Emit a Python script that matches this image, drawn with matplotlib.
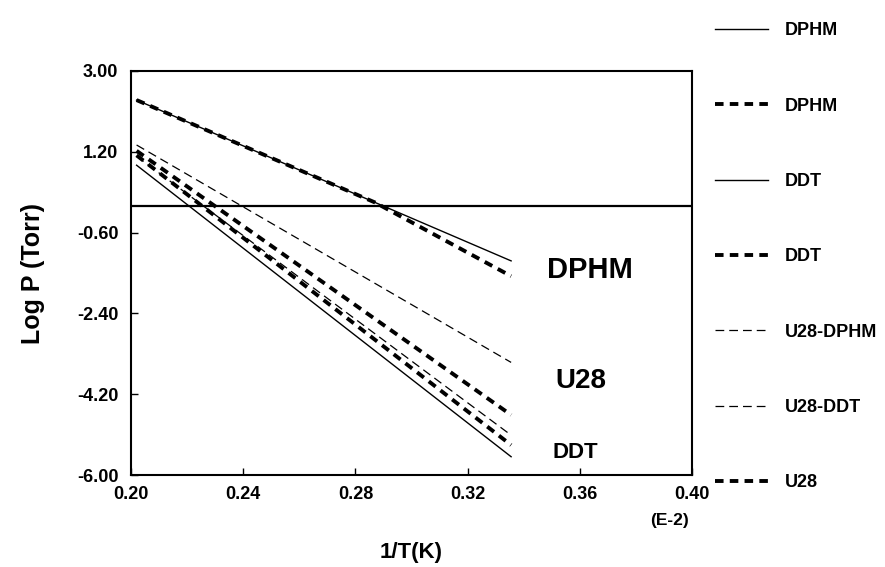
import matplotlib
matplotlib.use("Agg")
import matplotlib.pyplot as plt

plt.rcParams['font.family'] = ['Liberation Sans', 'DejaVu Sans']
plt.rcParams['font.weight'] = 'bold'

# data: inverse temperature (E-2) and log vapour pressure (Torr)
inv_T = [0.202, 0.3355]
inv_T_dphm_dashed = [0.202, 0.287, 0.3355]
dphm_solid = [2.35, -1.23]
dphm_dashed = [2.35, 0.07, -1.57]
ddt_solid = [0.90, -5.59]
ddt_dashed = [1.12, -5.33]
u28_dphm = [1.35, -3.49]
u28_ddt = [1.10, -5.11]
u28 = [1.22, -4.66]

x_ticks = [0.20, 0.24, 0.28, 0.32, 0.36, 0.40]
y_ticks = [3.00, 1.20, -0.60, -2.40, -4.20, -6.00]

fig = plt.figure(figsize=(8.85, 5.67), dpi=100)
ax = fig.add_axes([0.148, 0.162, 0.634, 0.713])

thick = dict(color='black', lw=2.8, dashes=(2.2, 1.6))
thin_d = dict(color='black', lw=0.9, dashes=(7, 4))
solid = dict(color='black', lw=1.0)

h1, = ax.plot(inv_T, dphm_solid, label='DPHM', **solid)
h2, = ax.plot(inv_T_dphm_dashed, dphm_dashed, label='DPHM', **thick)
h3, = ax.plot(inv_T, ddt_solid, label='DDT', **solid)
h4, = ax.plot(inv_T, ddt_dashed, label='DDT', **thick)
h5, = ax.plot(inv_T, u28_dphm, label='U28-DPHM', **thin_d)
h6, = ax.plot(inv_T, u28_ddt, label='U28-DDT', **thin_d)
h7, = ax.plot(inv_T, u28, label='U28', **thick)

ax.axhline(0, color='black', lw=1.6)

ax.set_xlim(0.20, 0.40)
ax.set_ylim(-6.0, 3.0)
ax.set_xticks(x_ticks)
ax.set_yticks(y_ticks)
ax.set_xticklabels([f"{v:.2f}" for v in x_ticks], fontsize=13, fontweight='bold')
ax.set_yticklabels([f"{v:.2f}" for v in y_ticks], fontsize=13, fontweight='bold')
ax.tick_params(direction='in', length=5, width=1)
ax.tick_params(axis='y', pad=9)
ax.tick_params(axis='x', pad=8)
for s in ax.spines.values():
    s.set_linewidth(1.5)

ax.set_xlabel('1/T(K)', fontsize=16, fontweight='bold', labelpad=28)
ax.set_ylabel('Log P (Torr)', fontsize=18, fontweight='bold', labelpad=23)
ax.text(0.392, -7.0, '(E-2)', fontsize=12.5, fontweight='bold', ha='center', va='center')

ax.text(0.3483, -1.43, 'DPHM', fontsize=21, fontweight='bold', va='center')
ax.text(0.3512, -3.90, 'U28', fontsize=20, fontweight='bold', va='center')
ax.text(0.3501, -5.49, 'DDT', fontsize=16, fontweight='bold', va='center')

leg = ax.legend(handles=[h1, h2, h3, h4, h5, h6, h7], loc='upper left',
                bbox_to_anchor=(0.790, 0.989), bbox_transform=fig.transFigure,
                frameon=False, fontsize=13, labelspacing=3.23,
                handlelength=2.9, handletextpad=0.95)
for t in leg.get_texts():
    t.set_fontweight('bold')

fig.savefig('out.png', dpi=100)
